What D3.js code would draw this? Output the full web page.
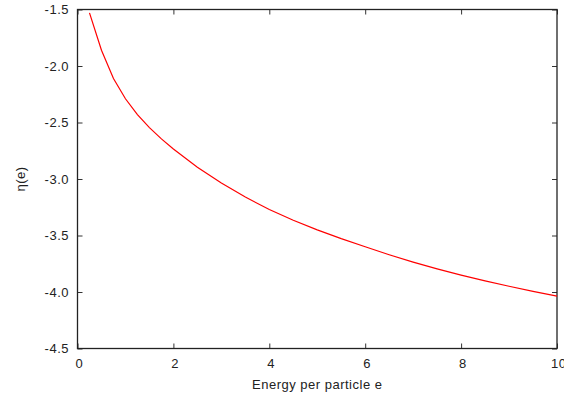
<!DOCTYPE html>
<html>
<head>
<meta charset="utf-8">
<script src="https://cdn.jsdelivr.net/npm/d3@7"></script>
<style>
  html, body { margin: 0; padding: 0; background: #fff; }
  svg { display: block; }
  text { font-family: "Liberation Sans", Arial, Helvetica, sans-serif; font-size: 13px; letter-spacing: 0.5px; fill: #222; }
</style>
</head>
<body>
<svg id="chart" width="564" height="398"></svg>
<script>
// Energy per particle e and the corresponding eta(e)
const energy = [0.25, 0.5, 0.75, 1.0, 1.25, 1.5, 1.75, 2.0, 2.5, 3.0, 3.5, 4.0, 4.5, 5.0,
                5.5, 6.0, 6.5, 7.0, 7.5, 8.0, 8.5, 9.0, 9.5, 10.0];
const eta = [-1.53, -1.86, -2.11, -2.29, -2.43, -2.545, -2.645, -2.735, -2.895, -3.035, -3.16, -3.27,
             -3.365, -3.45, -3.528, -3.60, -3.67, -3.735, -3.795, -3.85, -3.901, -3.949, -3.994, -4.036];
const xTicks = [0, 2, 4, 6, 8, 10];
const yTicks = [-4.5, -4.0, -3.5, -3.0, -2.5, -2.0, -1.5];
const xLabel = "Energy per particle e";
const yLabel = "η(e)";

const svg = d3.select("#chart");
const plotLeft = 77.5, plotRight = 557, plotTop = 9.5, plotBottom = 348.5;

const x = d3.scaleLinear().domain([0, 10]).range([plotLeft, plotRight]);
const y = d3.scaleLinear().domain([-4.5, -1.5]).range([plotBottom, plotTop]);

// Axes: ticks point inward, mirrored on top and right
const gx = svg.append("g").attr("transform", `translate(0,${plotBottom})`)
  .call(d3.axisBottom(x).tickValues(xTicks).tickFormat(d => String(d))
    .tickSizeInner(-5).tickSizeOuter(0).tickPadding(10.6));
const gy = svg.append("g").attr("transform", `translate(${plotLeft},0)`)
  .call(d3.axisLeft(y).tickValues(yTicks).tickFormat(d => d.toFixed(1))
    .tickSizeInner(-5).tickSizeOuter(0).tickPadding(8.5));
const gxt = svg.append("g").attr("transform", `translate(0,${plotTop})`)
  .call(d3.axisTop(x).tickValues(xTicks).tickFormat("").tickSizeInner(-5).tickSizeOuter(0));
const gyr = svg.append("g").attr("transform", `translate(${plotRight},0)`)
  .call(d3.axisRight(y).tickValues(yTicks).tickFormat("").tickSizeInner(-5).tickSizeOuter(0));

[gx, gy, gxt, gyr].forEach(g => {
  g.select(".domain").remove();
  g.selectAll(".tick line").attr("stroke", "#333").attr("stroke-width", 1);
  g.selectAll(".tick text").attr("fill", "#222").attr("font-size", null).attr("font-family", null);
});
gx.selectAll(".tick text").attr("dx", "1.3");

// Frame around the plot area
svg.append("rect")
  .attr("x", plotLeft).attr("y", plotTop)
  .attr("width", plotRight - plotLeft).attr("height", plotBottom - plotTop)
  .attr("fill", "none").attr("stroke", "#222").attr("stroke-width", 1.3);

// Curve
const line = d3.line().x((d, i) => x(energy[i])).y(d => y(d));
svg.append("path")
  .datum(eta)
  .attr("d", line)
  .attr("fill", "none")
  .attr("stroke", "#ff0000")
  .attr("stroke-width", 1.2);

// Axis titles
svg.append("text")
  .attr("x", (plotLeft + plotRight) / 2).attr("y", 389.3)
  .attr("text-anchor", "middle")
  .text(xLabel);
svg.append("text")
  .attr("transform", `translate(25,${(plotTop + plotBottom) / 2}) rotate(-90)`)
  .attr("text-anchor", "middle")
  .text(yLabel);
</script>
</body>
</html>
